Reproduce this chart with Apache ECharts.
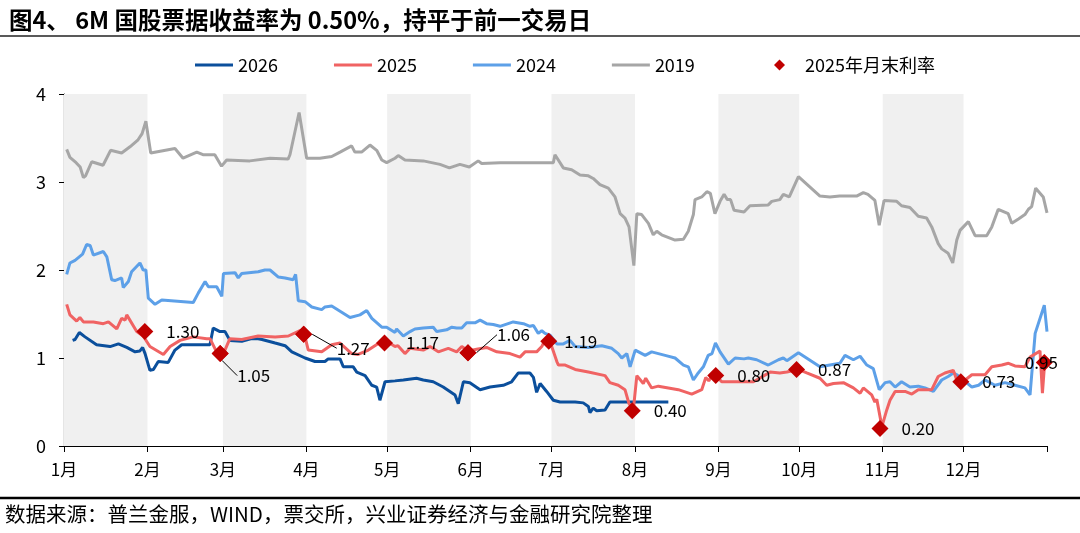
<!DOCTYPE html>
<html>
<head>
<meta charset="utf-8">
<script src="https://cdn.jsdelivr.net/npm/echarts@6/dist/echarts.min.js"></script>
<style>
html,body{margin:0;padding:0;background:#fff;}
#chart{width:1080px;height:533px;}
</style>
</head>
<body>
<div id="chart"></div>
<script>
// ---------------- data ----------------
const monthStarts = [0,31,59,90,120,151,181,212,243,273,304,334,365];
const monthLabels = ['1月','2月','3月','4月','5月','6月','7月','8月','9月','10月','11月','12月'];
const shadedMonthIdx = [0,2,4,6,8,10];
const yTicks = [0,1,2,3,4];

// [day of year, rate %]
const s2019 = [[1,3.37],[2.2,3.28],[4.5,3.22],[6,3.17],[7.2,3.05],[8,3.07],[10.3,3.23],[14.5,3.19],[17.3,3.36],[21.4,3.33],[24.5,3.40],[27.5,3.48],[29,3.55],[30.4,3.69],[32.2,3.33],[41.2,3.38],[44.2,3.27],[49.3,3.34],[51.6,3.31],[56,3.31],[58.5,3.18],[60.4,3.25],[69,3.24],[76.5,3.27],[83.2,3.26],[83.9,3.31],[87.3,3.79],[90.1,3.27],[95,3.27],[99.4,3.29],[102.5,3.34],[106.8,3.41],[108,3.34],[110.5,3.34],[113.6,3.42],[116.1,3.36],[118,3.25],[119.8,3.22],[122.9,3.27],[124.1,3.30],[126.6,3.25],[133.4,3.24],[139.6,3.20],[143.1,3.16],[147,3.20],[150.5,3.17],[153.8,3.24],[155.1,3.21],[161.9,3.22],[169.3,3.22],[181.7,3.22],[182.3,3.31],[185.4,3.16],[188.5,3.14],[191.6,3.08],[194.7,3.07],[196.5,3.04],[199,2.97],[202.1,2.93],[204.6,2.83],[206.5,2.64],[208.3,2.59],[209.8,2.49],[211.6,2.05],[212.7,2.64],[214.5,2.63],[217,2.53],[218.8,2.40],[220.1,2.44],[221.9,2.40],[226.9,2.34],[230,2.35],[231.8,2.44],[233.7,2.63],[234.3,2.80],[236.8,2.83],[238.7,2.89],[240,2.87],[241.7,2.64],[243.6,2.78],[245.1,2.86],[246.3,2.80],[247.5,2.80],[248.8,2.68],[252.5,2.66],[254.7,2.73],[261.5,2.74],[262.8,2.78],[265.8,2.80],[267.1,2.86],[269.3,2.83],[272.7,3.06],[280.7,2.84],[284.4,2.83],[288,2.84],[294.3,2.84],[296.8,2.88],[298.5,2.86],[301.1,2.79],[302.7,2.51],[304.5,2.79],[309.2,2.78],[311,2.73],[314.1,2.71],[317.2,2.61],[320.3,2.59],[322.2,2.49],[324.6,2.30],[325.9,2.24],[328.3,2.19],[330,2.08],[331.5,2.34],[332.7,2.45],[335.8,2.55],[338.3,2.39],[342.6,2.39],[344.5,2.49],[346.9,2.69],[350.6,2.64],[351.9,2.53],[354.4,2.58],[356.8,2.63],[358.1,2.69],[359.3,2.72],[360.8,2.93],[363.6,2.83],[365,2.65]];

const s2024 = [[1,1.95],[2.2,2.08],[4.1,2.11],[6.9,2.18],[8.4,2.29],[9.7,2.28],[10.9,2.17],[14.6,2.21],[15.9,2.15],[17.7,1.89],[18.9,1.88],[21.4,1.91],[22,1.80],[23.9,1.87],[25.1,1.98],[28.2,2.08],[29.4,2.00],[30.4,2.00],[31.3,1.68],[33.8,1.61],[36.3,1.66],[48,1.63],[49.9,1.74],[52.4,1.87],[53.6,1.81],[56.7,1.81],[58.6,1.70],[59.2,1.96],[63.5,1.97],[64.7,1.91],[66,1.96],[72.1,1.98],[74.6,2.00],[76.5,2.00],[79.6,1.92],[82.1,1.91],[85.1,1.89],[86,1.95],[87,1.65],[89.5,1.64],[92,1.58],[95.7,1.55],[96.9,1.58],[99.4,1.59],[103.1,1.52],[106.2,1.46],[109.9,1.49],[112.4,1.54],[114.3,1.45],[118,1.35],[119.8,1.35],[122.9,1.29],[123.5,1.33],[126,1.25],[128.5,1.30],[130.3,1.33],[133.4,1.34],[137.1,1.35],[138.4,1.30],[142.1,1.32],[144,1.35],[145.8,1.34],[147.7,1.34],[149.5,1.40],[152.6,1.40],[154.5,1.43],[156.9,1.39],[159.4,1.38],[161.9,1.36],[166.8,1.41],[170.6,1.39],[173,1.36],[174.3,1.37],[176.1,1.28],[177.4,1.31],[178.6,1.28],[180.5,1.26],[183,1.16],[185.4,1.16],[187.9,1.20],[189.8,1.13],[194.7,1.12],[199.7,1.14],[203.4,1.11],[205.8,1.05],[207.1,1.00],[209,1.05],[210.2,0.90],[212.1,1.09],[215.8,1.03],[218.2,1.07],[223.2,1.03],[226.9,1.00],[230,0.92],[231.8,0.90],[233.7,0.75],[235.5,0.83],[237.4,0.90],[239.2,1.03],[240.6,1.05],[241.9,1.17],[243.6,1.07],[246.7,0.93],[249.2,1.00],[252.5,0.99],[254.1,1.00],[257.2,0.98],[261.5,0.92],[265.3,0.98],[267.1,1.00],[268.4,0.97],[272.7,1.06],[280.7,0.90],[284.4,0.92],[288.1,0.94],[290,1.03],[293.1,0.98],[295.6,1.02],[298.1,0.92],[300.5,0.88],[302.7,0.64],[304.9,0.72],[306.7,0.73],[308.6,0.67],[311,0.73],[314.1,0.67],[317.2,0.68],[319.7,0.66],[322.8,0.62],[325.9,0.75],[328.3,0.79],[330.2,0.83],[331.5,0.81],[334,0.75],[337.1,0.67],[339.6,0.69],[342,0.75],[345.7,0.69],[349.4,0.72],[353.1,0.69],[356.8,0.66],[358.7,0.58],[360.6,1.28],[364,1.60],[365,1.30]];

const s2025 = [[1,1.61],[2.2,1.49],[4.7,1.42],[5.9,1.46],[7.2,1.41],[10.9,1.41],[14.6,1.39],[16.5,1.41],[19.6,1.33],[21.4,1.45],[22.7,1.43],[23.3,1.49],[27,1.30],[29.4,1.25],[31.9,1.13],[36.9,1.04],[39.4,1.13],[43.1,1.20],[48,1.24],[53,1.22],[54.2,1.22],[57.3,1.03],[59.2,1.05],[61.6,1.22],[66,1.21],[72.1,1.25],[78.4,1.24],[83.3,1.25],[87.6,1.31],[89.5,1.24],[90.7,1.09],[95.7,1.07],[99.4,1.15],[102.5,1.17],[106.8,1.05],[109.2,1.04],[113,1.09],[118,1.19],[119.8,1.19],[122.9,1.13],[124,1.14],[126.6,1.05],[128.5,1.11],[133.4,1.09],[135.9,1.13],[139,1.07],[142.7,1.11],[145.8,1.07],[147.7,1.13],[150.2,1.08],[153.2,1.10],[156.9,1.12],[160.7,1.07],[165.6,1.05],[169.3,1.01],[171.2,1.07],[175.5,1.07],[177.4,1.13],[178.6,1.20],[181.1,1.13],[183,0.96],[183.6,0.92],[186.1,0.92],[189.8,0.87],[194.7,0.84],[200.9,0.80],[202.7,0.72],[205.8,0.69],[208.3,0.64],[209.8,0.48],[211.4,0.41],[212.7,0.80],[215.1,0.71],[216,0.77],[218.2,0.66],[220.7,0.68],[224.4,0.66],[228.1,0.64],[233.1,0.59],[236.8,0.64],[238.3,0.78],[239.4,0.74],[240.6,0.80],[242.1,0.80],[244.2,0.73],[248.6,0.73],[256,0.73],[262.2,0.84],[265.8,0.83],[268.4,0.84],[272.6,0.87],[275.8,0.83],[280.7,0.77],[283.2,0.69],[285.7,0.71],[289.4,0.72],[293.1,0.66],[295.6,0.60],[296.8,0.66],[299.9,0.58],[301.1,0.50],[301.8,0.53],[303.7,0.22],[305.5,0.41],[306.7,0.52],[308.6,0.62],[312.3,0.62],[314.8,0.59],[317.2,0.64],[322.2,0.64],[324.6,0.79],[327.1,0.83],[330.2,0.86],[331.5,0.75],[333.8,0.73],[337.1,0.81],[342,0.81],[344.5,0.90],[348.2,0.92],[350.7,0.94],[353.1,0.91],[356.8,0.90],[358.7,1.01],[362.4,1.08],[363.3,0.60],[364.3,1.01],[364.6,0.95]];

const s2026 = [[3.2,1.20],[4.1,1.21],[5.7,1.29],[7.8,1.24],[12.1,1.15],[17.1,1.13],[20.2,1.16],[23.3,1.12],[26.4,1.07],[28.2,1.08],[29.2,1.12],[30.1,1.05],[31.9,0.86],[33.2,0.87],[35,0.96],[38.7,0.95],[41.2,1.09],[43.7,1.15],[54.2,1.15],[55.4,1.34],[57.9,1.30],[59.8,1.30],[61.6,1.20],[66,1.19],[69.7,1.22],[71.6,1.22],[73.5,1.21],[78.4,1.17],[82.1,1.14],[84.6,1.07],[89.5,1.00],[93.2,0.96],[96.9,0.96],[98.1,0.99],[102.5,0.99],[103.7,0.90],[107.4,0.90],[108.7,0.84],[111.8,0.80],[114.3,0.69],[116.1,0.67],[117.3,0.52],[119.2,0.73],[122.9,0.74],[126,0.75],[130.9,0.77],[133.4,0.75],[137.1,0.73],[140.8,0.67],[145.2,0.58],[146.4,0.48],[148.3,0.73],[150.7,0.72],[154.5,0.64],[158.2,0.67],[163.1,0.69],[166.2,0.73],[168.7,0.83],[173,0.83],[174.3,0.78],[175.5,0.61],[176.8,0.71],[179.2,0.62],[181.7,0.52],[184.2,0.50],[189.8,0.50],[192.8,0.49],[194.7,0.45],[195.3,0.38],[196.5,0.43],[197.8,0.40],[200.9,0.41],[202.7,0.50],[224.4,0.50]];

const monthEndDays = [30,58,89,119,150,180,211,242,272,303,333,364];
const monthEndRates = [1.30,1.05,1.27,1.17,1.06,1.19,0.40,0.80,0.87,0.20,0.73,0.95];

// ---------------- presentation ----------------
const FONT = '"Noto Sans CJK SC","Noto Sans",sans-serif';
const C2026 = '#0B4F9C', C2025 = '#F06363', C2024 = '#5DA0E8', C2019 = '#A6A6A6', CMARK = '#C00000';

const leaderIdx = [1,2,4];
const leaderGeom = {
  1: {bx:0, by:21, ex:11, tx:17, ty:22},
  2: {bx:17, by:14, ex:28, tx:33, ty:14},
  4: {bx:10, by:-19, ex:22, tx:29, ty:-18}
};
const labelTweak = {5:{distance:7}, 11:{position:'inside', offset:[-3,0]}};

const markerData = monthEndDays.map((d,i)=>{
  const item = {value:[d, monthEndRates[i]]};
  if (leaderIdx.indexOf(i) >= 0) item.label = {show:false};
  else if (labelTweak[i]) item.label = labelTweak[i];
  return item;
});
const leaderData = leaderIdx.map(i => ({value:[monthEndDays[i], monthEndRates[i]]}));

const chart = echarts.init(document.getElementById('chart'), null, {renderer:'canvas'});

const lineSeries = (name, data, color) => ({
  name, type:'line', data, symbol:'none', showSymbol:false,
  lineStyle:{color, width:3}, itemStyle:{color}, z:3, animation:false
});

const labelFont = {fontFamily:FONT, fontSize:17, color:'#000'};

const option = {
  animation:false,
  backgroundColor:'#fff',
  textStyle:{fontFamily:FONT},
  title:{
    text:'图4、 6M 国股票据收益率为 0.50%，持平于前一交易日',
    left:4, top:3,
    textStyle:{fontFamily:FONT, fontSize:23.5, fontWeight:'bold', color:'#000'}
  },
  graphic:[
    {type:'line', shape:{x1:0,y1:36,x2:1080,y2:36}, style:{stroke:'#222', lineWidth:1.5}},
    {type:'line', shape:{x1:0,y1:498,x2:1080,y2:498}, style:{stroke:'#000', lineWidth:2.5}},
    {type:'text', left:5, top:504, style:{text:'数据来源：普兰金服，WIND，票交所，兴业证券经济与金融研究院整理', font:'20.5px '+FONT, fill:'#000'}}
  ],
  legend:[
    {
      data:['2026','2025','2024','2019'],
      left:190, top:51, icon:'rect', itemWidth:38, itemHeight:3, itemGap:56,
      textStyle:{fontFamily:FONT, fontSize:18, color:'#000'}
    },
    {
      data:[{name:'2025年月末利率', icon:'diamond', itemStyle:{color:CMARK, opacity:1}}],
      left:769, top:51, itemWidth:11, itemHeight:11,
      textStyle:{fontFamily:FONT, fontSize:18, color:'#000', padding:[0,0,0,15]}
    }
  ],
  grid:{left:64, right:33, top:94, bottom:87, containLabel:false},
  xAxis:{
    type:'value', min:0, max:365,
    splitLine:{show:false},
    axisLine:{show:true, lineStyle:{color:'#000', width:1.2}},
    axisTick:{show:true, inside:false, length:6, customValues:monthStarts, lineStyle:{color:'#000'}},
    axisLabel:{
      show:true, customValues:monthStarts.slice(0,12), margin:15,
      fontFamily:FONT, fontSize:17, color:'#000',
      formatter:(v)=>{ const i = monthStarts.indexOf(Math.round(v)); return i>=0 && i<12 ? monthLabels[i] : ''; }
    }
  },
  yAxis:{
    type:'value', min:yTicks[0], max:yTicks[yTicks.length-1], interval:1,
    splitLine:{show:false},
    axisLine:{show:true, lineStyle:{color:'#000', width:1.2}},
    axisTick:{show:true, inside:false, length:5, lineStyle:{color:'#000'}},
    axisLabel:{show:true, margin:18, fontFamily:FONT, fontSize:18, color:'#000'}
  },
  series:[
    {
      name:'bands', type:'line', data:[], z:1, silent:true,
      markArea:{
        silent:true,
        itemStyle:{color:'#F0F0F0'},
        data: shadedMonthIdx.map(i => [{xAxis:monthStarts[i]},{xAxis:monthStarts[i+1]}])
      }
    },
    lineSeries('2019', s2019, C2019),
    lineSeries('2024', s2024, C2024),
    lineSeries('2026', s2026, C2026),
    lineSeries('2025', s2025, C2025),
    {
      name:'2025年月末利率', type:'scatter', data:markerData, z:5,
      symbol:'diamond', symbolSize:17, itemStyle:{color:CMARK, opacity:1},
      label:Object.assign({show:true, position:'right', distance:13,
        formatter:(p)=>p.value[1].toFixed(2)}, labelFont)
    },
    {
      name:'2025年月末利率', type:'scatter', data:leaderData, z:5,
      symbol:'diamond', symbolSize:17, itemStyle:{color:CMARK, opacity:1},
      label:Object.assign({show:true, position:'right',
        formatter:(p)=>p.value[1].toFixed(2)}, labelFont),
      labelLine:{show:true, lineStyle:{color:'#000', width:1}},
      labelLayout:(p)=>{
        const g = leaderGeom[leaderIdx[p.dataIndex]];
        const cx = p.rect.x + p.rect.width/2, cy = p.rect.y + p.rect.height/2;
        return {
          x: cx + g.tx, y: cy + g.ty, align:'left', verticalAlign:'middle',
          labelLinePoints:[[cx, cy],[cx + g.bx, cy + g.by],[cx + g.ex, cy + g.ty]]
        };
      }
    }
  ]
};
chart.setOption(option);
</script>
</body>
</html>
